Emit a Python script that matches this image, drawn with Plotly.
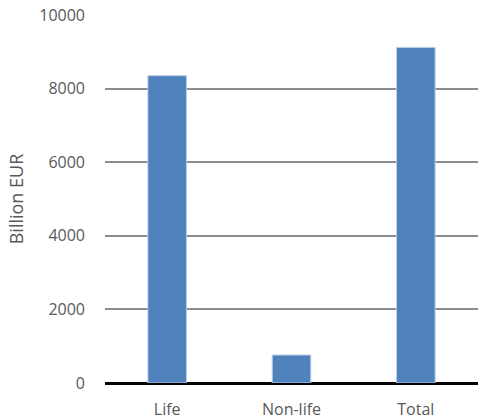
import plotly.graph_objects as go

categories = ["Life", "Non-life", "Total"]
values = [8350, 760, 9120]
tick_vals = [0, 2000, 4000, 6000, 8000, 10000]
tick_text = ["0", "2000", "4000", "6000", "8000", "10000"]

fig = go.Figure(go.Bar(
    x=categories, y=values,
    marker=dict(color="#4F81BD", line=dict(color="#b9cde6", width=1)),
    width=0.31,
))
fig.update_layout(
    width=478, height=419,
    margin=dict(l=105, r=0, t=15, b=36),
    paper_bgcolor="white", plot_bgcolor="white",
    font=dict(family="Open Sans, Liberation Sans, sans-serif", size=16, color="#595959"),
    showlegend=False,
)
fig.update_yaxes(
    range=[0, 10000], tickvals=tick_vals, ticktext=tick_text,
    showgrid=True, gridcolor="#8c8c8c", gridwidth=1.5,
    zeroline=True, zerolinecolor="black", zerolinewidth=2.5,
    showline=False, ticks="", ticklabelstandoff=19,
    title=dict(text="Billion EUR", standoff=10, font=dict(size=18, color="#595959")),
)
fig.update_xaxes(showline=False, ticks="", ticklabelstandoff=15)
fig.write_html("out.html")
